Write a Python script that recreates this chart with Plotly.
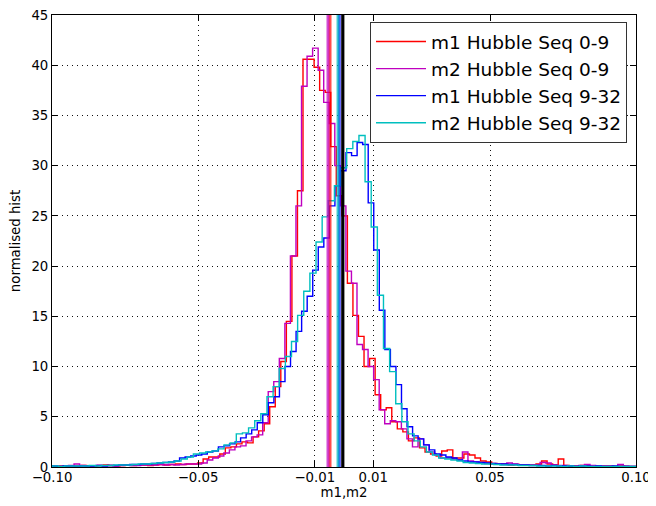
import numpy as np
import plotly.graph_objects as go

# ---------------- data ----------------
labels = ["m1 Hubble Seq 0-9", "m2 Hubble Seq 0-9", "m1 Hubble Seq 9-32", "m2 Hubble Seq 9-32"]
colors = ["#ff0000", "#bf00bf", "#0000ff", "#00bfbf"]

# histogram bin layout per series (first bin edge, bin width)
bin_start = [-0.10144, -0.10195, -0.10191, -0.10198]
bin_width = [0.0019, 0.0019, 0.0019, 0.0021]

m1_seq_0_9 = [0.05, 0.05, 0.1, 0.05, 0.1, 0.1, 0.15, 0.1, 0.1, 0.15, 0.2, 0.15, 0.1, 0.15, 0.2, 0.15,
              0.2, 0.2, 0.15, 0.2, 0.25, 0.2, 0.25, 0.3, 0.25, 0.3, 0.3,
              0.4, 0.8, 1.0, 1.0, 1.3, 1.9, 2.0, 2.3, 2.5, 2.4, 3.0, 3.6, 4.3, 6.0, 8.0, 10.5, 14.5,
              21, 27.5, 40.6, 40.6, 39.8, 37.5, 37.3, 31.9, 27, 25, 18.3, 15.1, 13, 10, 10.8, 7.2,
              5.7, 5.9, 4.5, 3.8,
              3.5, 2.6, 2.9, 1.9, 1.5, 1.3, 1.1, 1.6, 1.7, 0.9, 0.9, 1.3, 1.2, 0.9, 0.6, 0.5, 0.35,
              0.3, 0.3, 0.2, 0.25, 0.2, 0.2, 0.2, 0.3, 0.6, 0.3, 0.2, 0.8, 0.15, 0.1, 0.1, 0.15,
              0.1, 0.1, 0.05, 0.1, 0.1, 0.05, 0.1, 0.05, 0.05, 0.05]

m2_seq_0_9 = [0.05, 0.1, 0.05, 0.1, 0.15, 0.3, 0.15, 0.1, 0.1, 0.15, 0.1, 0.15, 0.1, 0.15, 0.2, 0.15,
              0.15, 0.2, 0.2, 0.2, 0.25, 0.2, 0.25, 0.2, 0.25, 0.3, 0.3,
              0.3, 0.4, 0.7, 0.9, 1.1, 1.4, 1.7, 2.0, 2.1, 2.6, 3.0, 3.2, 4.4, 7.5, 8.5, 10.8, 14.3,
              21, 26,
              37.9, 40.9, 41.7, 39.5, 36.3, 34.2, 30, 26, 19.5, 18.3, 12.2, 11.7, 10, 8.7, 5.7, 4.3,
              4.6, 4.5, 3.8,
              2.8, 2.0, 2.8, 2.2, 1.5, 1.2, 0.9, 0.9, 0.8, 0.7, 1.5, 0.6, 0.5, 0.4, 0.35, 0.3, 0.3,
              0.25, 0.4, 0.3, 0.2, 0.2, 0.2, 0.2, 0.45, 0.4, 0.2, 0.15, 0.15, 0.1, 0.1, 0.15, 0.25,
              0.15, 0.1, 0.1, 0.1, 0.05, 0.25, 0.1, 0.05, 0.05]

m1_seq_9_32 = [0.05, 0.1, 0.05, 0.1, 0.1, 0.05, 0.1, 0.1, 0.1, 0.15, 0.1, 0.15, 0.15, 0.2, 0.2, 0.25,
               0.25,
               0.3, 0.3, 0.35, 0.4, 0.45, 0.5, 0.6, 0.9, 1.0, 1.1, 1.2, 1.3, 1.5, 1.6, 2.0, 2.1, 2.3,
               2.5, 2.9, 3.3, 3.7, 4.4, 5.2, 6.4, 7.0, 8.5, 10.0, 11.5, 13.5, 15.5, 17.0, 19.6, 21.9,
               22.8, 26.0, 28.0, 29.5,
               31.3, 31.0, 32.3, 32.1, 26.3, 21.6, 15.6, 11.7, 10.0, 8.2, 5.8, 4.0, 3.1, 2.8, 2.2,
               1.7, 1.3, 1.2, 1.0, 0.9, 0.7, 0.6, 0.5, 0.5, 0.45, 0.4, 0.35, 0.3, 0.3, 0.25, 0.25,
               0.2, 0.2, 0.15, 0.15, 0.15, 0.1, 0.15, 0.1, 0.1, 0.1, 0.05, 0.1, 0.1, 0.05, 0.1, 0.05,
               0.05, 0.1, 0.05, 0.05, 0.05, 0.05]

m2_seq_9_32 = [0.05, 0.1, 0.05, 0.1, 0.1, 0.1, 0.1, 0.15, 0.1, 0.15, 0.15, 0.2, 0.2, 0.2, 0.25, 0.3,
               0.3, 0.35, 0.4, 0.45,
               0.5, 0.6, 0.8, 1.0, 1.3, 1.4, 1.5, 1.6, 1.8, 2.2, 2.4, 3.3, 3.4, 3.9, 4.6, 5.3, 7.0,
               8.0, 9.8, 11.0, 12.5, 15.1, 17.5, 19.3, 22.4, 24.9, 26.5, 28, 29.8,
               31.7, 32.4, 33.0, 28.4, 23.9, 17.1, 11.8, 9.5, 6.3, 4.5, 3.3, 2.6, 2.0, 1.5, 1.2, 0.9,
               0.8, 0.7, 0.6, 0.45, 0.4, 0.35, 0.3, 0.3, 0.25, 0.2, 0.2, 0.2, 0.15, 0.15, 0.15, 0.1,
               0.1, 0.1, 0.1, 0.05, 0.1, 0.05, 0.1, 0.05, 0.05, 0.05, 0.05, 0.05, 0.05, 0.05, 0.05,
               0.05]

series_values = [m1_seq_0_9, m2_seq_0_9, m1_seq_9_32, m2_seq_9_32]

# means of each distribution (vertical lines) and the overall mean (black)
series_means = [-0.00479, -0.00548, -0.00161, -0.00205]
overall_mean = -0.00041

x_ticks = [-0.10, -0.05, -0.01, 0.01, 0.05, 0.10]
y_ticks = [0, 5, 10, 15, 20, 25, 30, 35, 40, 45]

# ---------------- figure ----------------
FONT = "DejaVu Sans"
fig = go.Figure()

for name, col, start, w, vals in zip(labels, colors, bin_start, bin_width, series_values):
    edges = start + w * np.arange(len(vals) + 1)
    xs = np.r_[edges[0], edges]
    ys = np.r_[0.0, np.asarray(vals, dtype=float), 0.0]
    fig.add_trace(go.Scatter(x=xs, y=ys, mode="lines", name=name,
                             line=dict(color=col, width=1.4, shape="hv")))

for col, m in zip(colors, series_means):
    fig.add_trace(go.Scatter(x=[m, m], y=[y_ticks[0], y_ticks[-1]], mode="lines",
                             line=dict(color=col, width=3), opacity=0.7,
                             showlegend=False, hoverinfo="skip"))
fig.add_trace(go.Scatter(x=[overall_mean, overall_mean], y=[y_ticks[0], y_ticks[-1]],
                         mode="lines", line=dict(color="black", width=3.2),
                         showlegend=False, hoverinfo="skip"))

axis_common = dict(
    showline=True, linecolor="black", linewidth=1, mirror="ticks",
    ticks="inside", ticklen=6, tickwidth=1, tickcolor="black",
    showgrid=True, gridcolor="#111111", gridwidth=1, griddash="1px,4px",
    zeroline=False, automargin=False, ticklabeloverflow="allow",
    tickfont=dict(family=FONT, size=13.3, color="black"),
)

fig.update_xaxes(range=[x_ticks[0], x_ticks[-1]], tickvals=x_ticks, tickformat=".2f",
                 ticklabelstandoff=-2,
                 title=dict(text="m1,m2", font=dict(family=FONT, size=13.3, color="black"),
                            standoff=0),
                 **axis_common)
fig.update_yaxes(range=[y_ticks[0], y_ticks[-1]], tickvals=y_ticks,
                 title=dict(text="normalised hist", font=dict(family=FONT, size=13.3, color="black"),
                            standoff=11),
                 **axis_common)

# the page body has an 8px default margin, so the figure is shrunk and shifted to compensate
fig.update_layout(
    width=648, height=498,
    margin=dict(l=44, r=20, t=7, b=39),
    paper_bgcolor="white", plot_bgcolor="white",
    font=dict(family=FONT, color="black"),
    showlegend=True,
    legend=dict(x=0.9846, y=0.9845, xanchor="right", yanchor="top",
                bgcolor="white", bordercolor="#333333", borderwidth=1,
                font=dict(family=FONT, size=18.5, color="black"),
                itemwidth=50, tracegroupgap=0),
)

fig.write_html("out.html")
